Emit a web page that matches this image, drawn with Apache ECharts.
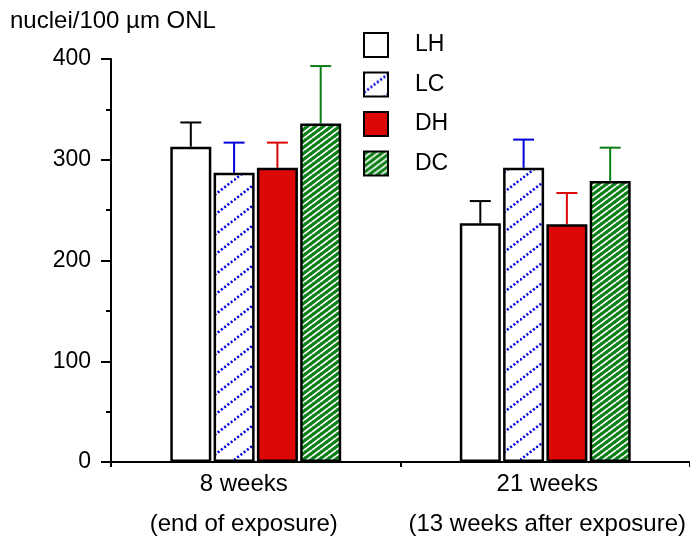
<!DOCTYPE html>
<html>
<head>
<meta charset="utf-8">
<script src="https://cdn.jsdelivr.net/npm/echarts@6/dist/echarts.min.js"></script>
<style>
  html, body { margin: 0; padding: 0; background: #fff; }
  #main { width: 690px; height: 538px; }
</style>
</head>
<body>
<div id="main"></div>
<script>
var categories = ['8 weeks\n(end of exposure)', '21 weeks\n(13 weeks after exposure)'];
var seriesNames = ['LH', 'LC', 'DH', 'DC'];
// means
var lhMean = [313, 237];
var lcMean = [287, 292];
var dhMean = [292, 236];
var dcMean = [336, 279];
// upper end of the error bars
var lhErr = [337, 259];
var lcErr = [317, 320];
var dhErr = [317, 267];
var dcErr = [393, 312];
var yTicks = [0, 100, 200, 300, 400];

var FONT = '"Liberation Sans", Arial, Helvetica, sans-serif';
var BLUE = '#0000dc';
var RED = '#dc0808';
var GREEN = '#0a7d14';

// hatched fill for LC: white with dotted blue diagonals
function hatchLC() {
  var w = 26, h = 20;
  var c = document.createElement('canvas');
  c.width = w; c.height = h;
  var ctx = c.getContext('2d');
  ctx.fillStyle = '#fff';
  ctx.fillRect(0, 0, w, h);
  ctx.strokeStyle = BLUE;
  ctx.lineWidth = 2.6;
  var L = Math.sqrt(w * w + h * h);
  ctx.setLineDash([L / 16, L / 16]);
  for (var k = -1; k <= 1; k++) {
    ctx.beginPath();
    ctx.moveTo(0, h + k * h);
    ctx.lineTo(w, k * h);
    ctx.stroke();
  }
  return c;
}

// hatched fill for DC: green with white diagonals
function hatchDC() {
  var w = 8, h = 6;
  var c = document.createElement('canvas');
  c.width = w; c.height = h;
  var ctx = c.getContext('2d');
  ctx.fillStyle = GREEN;
  ctx.fillRect(0, 0, w, h);
  ctx.strokeStyle = '#fff';
  ctx.lineWidth = 1.8;
  for (var k = -1; k <= 1; k++) {
    ctx.beginPath();
    ctx.moveTo(0, h + k * h);
    ctx.lineTo(w, k * h);
    ctx.stroke();
  }
  return c;
}

var fills = [
  '#ffffff',
  { image: hatchLC(), repeat: 'repeat' },
  RED,
  { image: hatchDC(), repeat: 'repeat' }
];
var errColors = ['#000000', BLUE, RED, GREEN];
var means = [lhMean, lcMean, dhMean, dcMean];
var errs = [lhErr, lcErr, dhErr, dcErr];

var BAR_W = 41;
var BAR_GAP = 0.056;

function barOffset(i) {
  var g = BAR_W * BAR_GAP;
  var total = 4 * BAR_W + 3 * g;
  return -total / 2 + BAR_W / 2 + i * (BAR_W + g);
}

var series = [];
seriesNames.forEach(function (name, i) {
  series.push({
    name: name,
    type: 'bar',
    barWidth: BAR_W,
    barGap: (BAR_GAP * 100) + '%',
    data: means[i],
    itemStyle: { color: fills[i], borderColor: '#000', borderWidth: 2.5 },
    z: 2
  });
});
seriesNames.forEach(function (name, i) {
  series.push({
    name: 'err' + name,
    type: 'custom',
    data: means[i].map(function (m, k) { return [k, m, errs[i][k]]; }),
    z: 1,
    renderItem: function (params, api) {
      var lo = api.coord([api.value(0), api.value(1)]);
      var hi = api.coord([api.value(0), api.value(2)]);
      var x = lo[0] + barOffset(i);
      var st = { stroke: errColors[i], lineWidth: 2 };
      return {
        type: 'group',
        children: [
          { type: 'line', shape: { x1: x, y1: lo[1], x2: x, y2: hi[1] }, style: st },
          { type: 'line', shape: { x1: x - 10.5, y1: hi[1], x2: x + 10.5, y2: hi[1] }, style: st }
        ]
      };
    }
  });
});

var chart = echarts.init(document.getElementById('main'));
chart.setOption({
  animation: false,
  backgroundColor: '#fff',
  title: {
    text: 'nuclei/100 µm ONL',
    left: 5,
    top: 4,
    textStyle: { fontFamily: FONT, fontSize: 24, fontWeight: 'normal', color: '#000' }
  },
  legend: {
    data: seriesNames,
    orient: 'vertical',
    left: 363,
    top: 32,
    padding: 0,
    itemWidth: 24,
    itemHeight: 24,
    itemGap: 13.5,
    icon: 'rect',
    textStyle: { fontFamily: FONT, fontSize: 23, color: '#000', padding: [0, 0, 0, 22] }
  },
  grid: { left: 111, right: 0, top: 59, bottom: 76, containLabel: false, outerBoundsMode: 'none' },
  xAxis: {
    type: 'category',
    data: categories,
    axisLine: { lineStyle: { color: '#000', width: 2 } },
    axisTick: { show: true, length: 5, lineStyle: { color: '#000', width: 2 } },
    axisLabel: {
      interval: 0,
      hideOverlap: false,
      margin: 2,
      lineHeight: 40,
      fontFamily: FONT,
      fontSize: 24,
      color: '#000',
      formatter: function (v, idx) {
        var parts = v.split('\n');
        var s = idx === 0 ? 'a' : 'b';
        return '{' + s + '|' + parts[0] + '}\n{' + s + '|' + parts[1] + '}';
      },
      rich: {
        a: { fontFamily: FONT, fontSize: 24, color: '#000', lineHeight: 40, padding: [0, 24, 0, 0] },
        b: { fontFamily: FONT, fontSize: 24, color: '#000', lineHeight: 40, padding: [0, 0, 0, 4] }
      }
    }
  },
  yAxis: {
    type: 'value',
    min: yTicks[0],
    max: yTicks[yTicks.length - 1],
    interval: 100,
    splitLine: { show: false },
    axisLine: { show: true, lineStyle: { color: '#000', width: 2 } },
    axisTick: { show: true, length: 10, lineStyle: { color: '#000', width: 2 } },
    minorTick: { show: true, splitNumber: 2, length: 5, lineStyle: { color: '#000', width: 2 } },
    axisLabel: { margin: 20, fontFamily: FONT, fontSize: 23, color: '#000' }
  },
  series: series
});
</script>
</body>
</html>
